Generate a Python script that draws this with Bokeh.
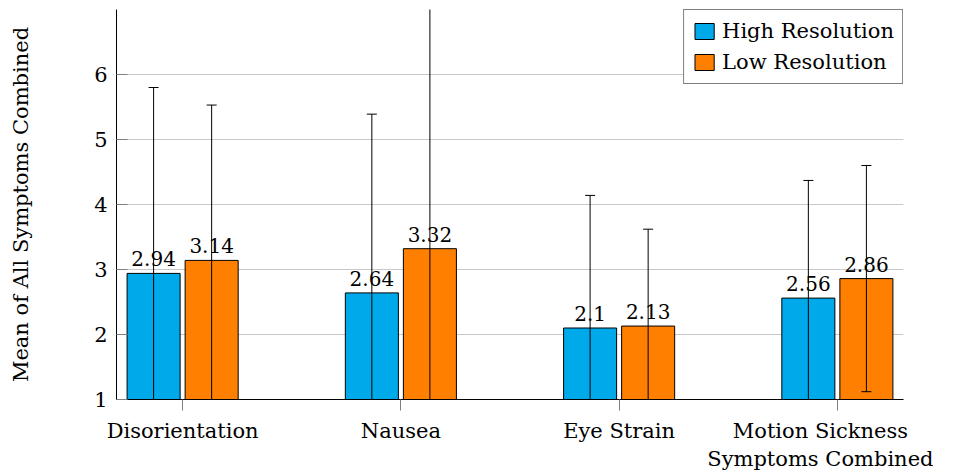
from bokeh.plotting import figure
from bokeh.models import ColumnDataSource, FixedTicker, Legend, LegendItem
from bokeh.embed import file_html
from bokeh.resources import INLINE
from bokeh.core.properties import value

categories = ["Disorientation", "Nausea", "Eye Strain", "Motion Sickness\nSymptoms Combined"]
series_names = ["High Resolution", "Low Resolution"]
high_mean = [2.94, 2.64, 2.10, 2.56]
high_sd = [2.86, 2.75, 2.04, 1.81]
low_mean = [3.14, 3.32, 2.13, 2.86]
low_sd = [2.39, 3.90, 1.49, 1.74]
y_ticks = [1, 2, 3, 4, 5, 6]

BLUE = "#00aaea"
ORANGE = "#ff8000"
FONT = "DejaVu Serif"
FS = "21px"
FS_VAL = "20px"

p = figure(frame_width=787, frame_height=390, x_range=(-0.303, 3.303), y_range=(1, 7),
           output_backend="svg", toolbar_location=None,
           min_border_left=116, min_border_top=9, min_border_right=30, min_border_bottom=70)
p.outline_line_color = None
p.xgrid.visible = False
p.ygrid.grid_line_color = "#c8c8c8"
p.ygrid.ticker = FixedTicker(ticks=y_ticks)

xs = list(range(len(categories)))
off = 0.133
w = 0.243
renderers = []
for means, sds, color, sign in [(high_mean, high_sd, BLUE, -1), (low_mean, low_sd, ORANGE, 1)]:
    xc = [x + sign * off for x in xs]
    src = ColumnDataSource(dict(
        x=xc, top=means,
        upper=[m + s for m, s in zip(means, sds)],
        lower=[m - s for m, s in zip(means, sds)],
        label=[str(m) for m in means],
    ))
    r = p.vbar(x="x", top="top", bottom=1, width=w, source=src, fill_color=color,
               line_color="black", line_width=1)
    renderers.append(r)
    p.text(x="x", y="top", text="label", source=src, text_align="center",
           text_baseline="bottom", y_offset=-7, text_font=value(FONT),
           text_font_size=FS_VAL, text_color="black")
    p.segment(x0="x", y0="lower", x1="x", y1="upper", source=src, line_color="black", line_width=1)
    p.scatter(x="x", y="upper", source=src, marker="dash", size=10, line_color="black", line_width=1)
    p.scatter(x="x", y="lower", source=src, marker="dash", size=10, line_color="black", line_width=1)

# axes
p.xaxis.ticker = FixedTicker(ticks=xs)
p.xaxis.major_label_overrides = {i: c for i, c in enumerate(categories)}
p.yaxis.ticker = FixedTicker(ticks=y_ticks)
for ax in (p.xaxis, p.yaxis):
    ax.axis_line_color = "black"
    ax.axis_line_width = 1
    ax.major_tick_line_color = "#808080"
    ax.minor_tick_line_color = None
    ax.major_label_text_font = FONT
    ax.major_label_text_font_size = FS
    ax.major_label_text_color = "black"
    ax.axis_label_text_font = FONT
    ax.axis_label_text_font_size = FS
    ax.axis_label_text_font_style = "normal"
    ax.axis_label_text_color = "black"
p.xaxis.major_tick_in = 0
p.xaxis.major_tick_out = 11
p.xaxis.major_label_standoff = 8
p.yaxis.major_tick_in = 11
p.yaxis.major_tick_out = 0
p.yaxis.major_label_standoff = 9
p.yaxis.axis_label = "Mean of All Symptoms Combined"
p.yaxis.axis_label_standoff = 58

legend = Legend(items=[LegendItem(label=series_names[0], renderers=[renderers[0]]),
                       LegendItem(label=series_names[1], renderers=[renderers[1]])],
                location="top_right")
legend.margin = 0
legend.padding = 8
legend.spacing = 5
legend.glyph_width = 24
legend.glyph_height = 20
legend.label_height = 26
legend.label_standoff = 6
legend.label_text_font = FONT
legend.label_text_font_size = FS
legend.label_text_color = "black"
legend.border_line_color = "black"
legend.border_line_width = 1
legend.background_fill_alpha = 1
p.add_layout(legend, "center")

open("out.html", "w").write(file_html(p, INLINE))
